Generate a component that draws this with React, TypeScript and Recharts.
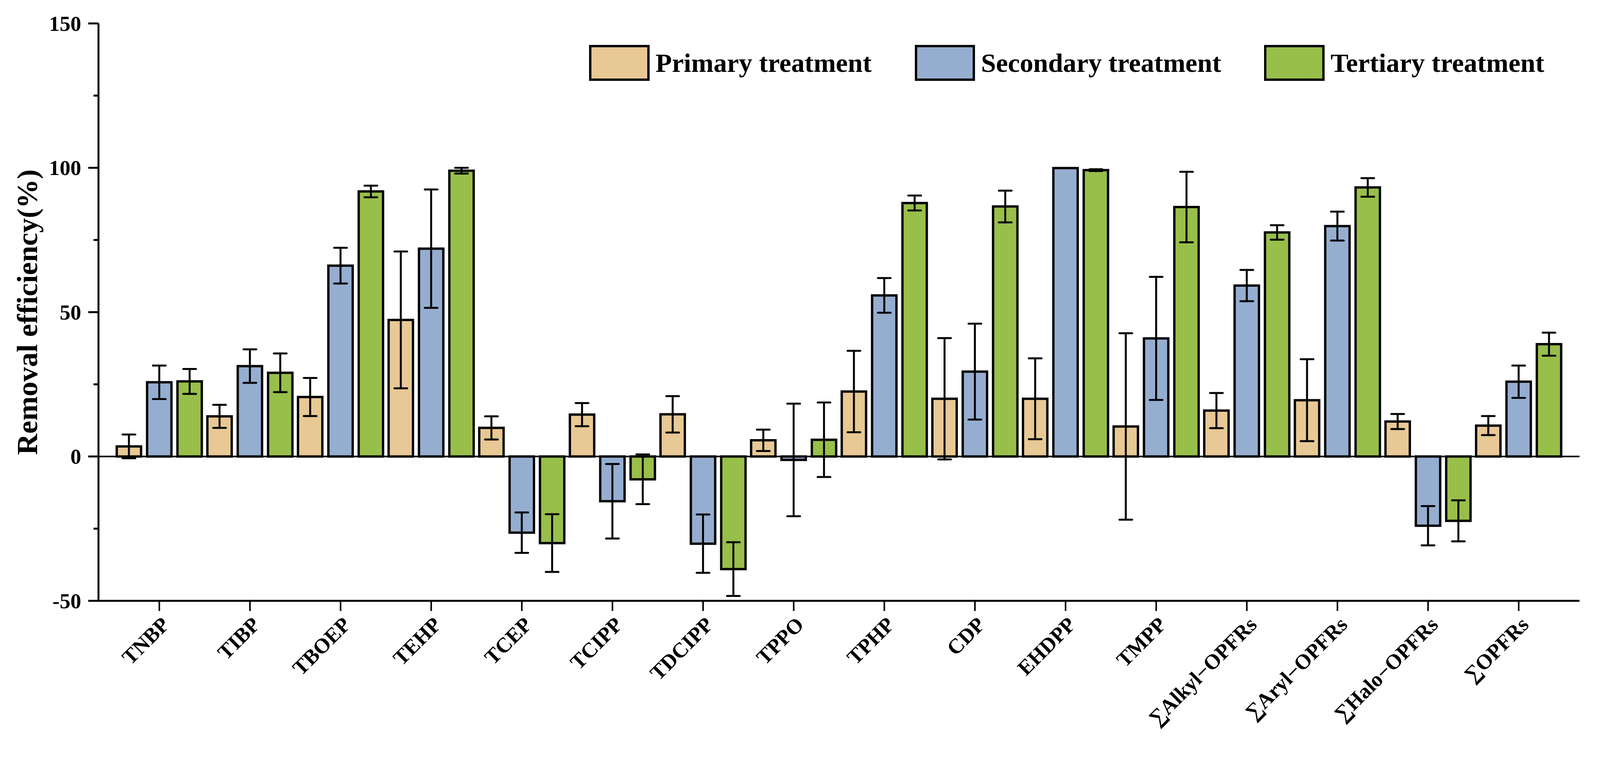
import React from 'react';
import { BarChart, Bar, XAxis, YAxis, ErrorBar, ReferenceLine, Legend } from 'recharts';

const categories = [
  'TNBP', 'TIBP', 'TBOEP', 'TEHP', 'TCEP', 'TCIPP', 'TDCIPP', 'TPPO',
  'TPHP', 'CDP', 'EHDPP', 'TMPP', '∑Alkyl−OPFRs', '∑Aryl−OPFRs', '∑Halo−OPFRs', '∑OPFRs',
];
const primary = [3.5, 13.9, 20.6, 47.3, 9.9, 14.5, 14.6, 5.6, 22.5, 20.0, 20.0, 10.4, 15.9, 19.5, 12.1, 10.7];
const primaryErr = [4.1, 4.0, 6.6, 23.7, 4.0, 4.0, 6.3, 3.7, 14.1, 21.0, 14.0, 32.3, 6.1, 14.2, 2.6, 3.3];
const secondary = [25.7, 31.3, 66.1, 72.0, -26.4, -15.5, -30.2, -1.2, 55.8, 29.4, 99.9, 40.9, 59.2, 79.8, -24.0, 25.9];
const secondaryErr = [5.8, 5.8, 6.2, 20.5, 7.0, 12.9, 10.1, 19.5, 6.0, 16.6, 0, 21.3, 5.4, 5.0, 6.8, 5.6];
const tertiary = [26.0, 29.0, 91.8, 99.0, -30.0, -7.9, -39.0, 5.8, 87.8, 86.6, 99.2, 86.4, 77.6, 93.2, -22.3, 38.9];
const tertiaryErr = [4.3, 6.7, 2.0, 1.0, 10.0, 8.6, 9.3, 12.9, 2.6, 5.5, 0.3, 12.2, 2.5, 3.2, 7.1, 4.0];

const yTicks = [-50, -25, 0, 25, 50, 75, 100, 125, 150];
const yLabelTicks = [-50, 0, 50, 100, 150];
const seriesNames = ['Primary treatment', 'Secondary treatment', 'Tertiary treatment'];
const seriesKeys = ['primary', 'secondary', 'tertiary'];
const colors = ['#E8C894', '#95AED0', '#98BF4A'];
const yTitle = 'Removal efficiency(%)';

const data = categories.map((name, i) => ({
  name,
  primary: primary[i],
  primaryErr: primaryErr[i],
  secondary: secondary[i],
  secondaryErr: secondaryErr[i],
  tertiary: tertiary[i],
  tertiaryErr: tertiaryErr[i],
}));

const FONT = '"Liberation Serif", "Times New Roman", Times, serif';
const REF_W = 4533;
const REF_H = 1948;

export default function App() {
  const W = Math.min(REF_W, (typeof window !== 'undefined' && window.innerWidth) || REF_W);
  const H = Math.min(REF_H, (typeof window !== 'undefined' && window.innerHeight) || REF_H);
  const sx = W / REF_W;
  const sy = H / REF_H;
  const hx = (v: number) => v * sx;
  const vy = (v: number) => v * sy;
  const fs = (v: number) => v * Math.sqrt(sx * sy);

  const YTick = (props: any) => {
    const { x, y, payload } = props;
    const major = yLabelTicks.includes(payload.value);
    return (
      <g>
        <line x1={x - hx(major ? 29 : 14)} x2={x} y1={y} y2={y} stroke="#000" strokeWidth={5} />
        {major && (
          <text x={x - hx(49)} y={y} dy="0.34em" textAnchor="end" fontFamily={FONT} fontWeight="bold" fontSize={fs(58)} fill="#000">
            {payload.value}
          </text>
        )}
      </g>
    );
  };

  const XTick = (props: any) => {
    const { x, y, payload } = props;
    const ax = x + hx(32);
    const ay = y + vy(38);
    return (
      <text x={ax} y={ay} transform={`rotate(-45 ${ax} ${ay})`} textAnchor="end" fontFamily={FONT} fontWeight="bold" fontSize={fs(57)} fill="#000">
        {payload.value}
      </text>
    );
  };

  const YTitle = (props: any) => {
    const vb = props.viewBox || { x: hx(79), y: vy(60), width: hx(200), height: vy(1478) };
    const tx = vb.x + hx(26);
    const ty = vb.y + vb.height / 2;
    return (
      <text x={tx} y={ty} transform={`rotate(-90 ${tx} ${ty})`} textAnchor="middle" fontFamily={FONT} fontWeight="bold" fontSize={vy(75)} fill="#000">
        {yTitle}
      </text>
    );
  };

  const LegendContent = () => (
    <div style={{ display: 'flex', alignItems: 'center', whiteSpace: 'nowrap', fontFamily: FONT, fontWeight: 'bold', fontSize: hx(76), lineHeight: 1, color: '#000' }}>
      {seriesNames.map((n, i) => (
        <div key={n} style={{ display: 'flex', alignItems: 'center', marginRight: i < seriesNames.length - 1 ? hx(122) : 0 }}>
          <div style={{ width: hx(171), height: vy(92), boxSizing: 'border-box', border: '6px solid #000', background: colors[i], marginRight: hx(17) }} />
          <span>{n}</span>
        </div>
      ))}
    </div>
  );

  return (
    <div style={{ position: 'absolute', left: 0, top: 0, width: W, height: H, overflow: 'hidden', background: '#fff' }}>
      <BarChart
        width={W}
        height={H}
        data={data}
        margin={{ top: vy(60), right: hx(58), left: hx(79), bottom: vy(110) }}
        barGap={hx(17)}
        barSize={hx(69)}
      >
        <XAxis
          dataKey="name"
          interval={0}
          height={vy(300)}
          padding={{ left: hx(44), right: hx(44) }}
          tickSize={vy(26)}
          tickMargin={0}
          tickLine={{ stroke: '#000', strokeWidth: 4 }}
          axisLine={{ stroke: '#000', strokeWidth: 5 }}
          tick={<XTick />}
        />
        <XAxis
          xAxisId="top"
          orientation="top"
          dataKey="name"
          height={0}
          tick={false}
          tickLine={false}
          axisLine={{ stroke: '#000', strokeWidth: 5 }}
        />
        <YAxis
          type="number"
          domain={[-50, 150]}
          ticks={yTicks}
          interval={0}
          width={hx(200)}
          tickSize={0}
          tickMargin={0}
          tickLine={false}
          axisLine={{ stroke: '#000', strokeWidth: 5 }}
          tick={<YTick />}
          label={{ content: <YTitle /> }}
        />
        <YAxis
          yAxisId="right"
          orientation="right"
          type="number"
          domain={[-50, 150]}
          width={0}
          tick={false}
          tickLine={false}
          axisLine={{ stroke: '#000', strokeWidth: 5 }}
        />
        <Legend
          layout="horizontal"
          verticalAlign="middle"
          align="center"
          content={<LegendContent />}
          wrapperStyle={{ top: vy(115), left: hx(1669), width: hx(2850), height: vy(92) }}
        />
        {seriesKeys.map((k, i) => (
          <Bar
            key={k}
            dataKey={k}
            name={seriesNames[i]}
            fill={colors[i]}
            stroke="#000"
            strokeWidth={6}
            isAnimationActive={false}
          >
            <ErrorBar dataKey={`${k}Err`} width={hx(18)} strokeWidth={5} stroke="#000" strokeLinecap="round" direction="y" />
          </Bar>
        ))}
        <ReferenceLine y={0} stroke="#000" strokeWidth={4} />
      </BarChart>
    </div>
  );
}
